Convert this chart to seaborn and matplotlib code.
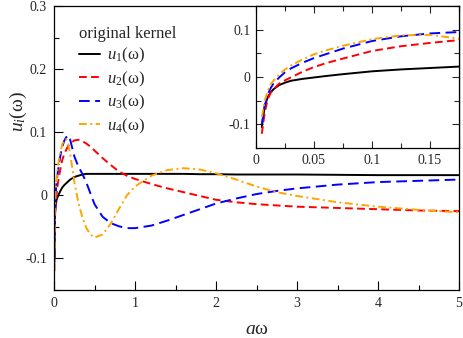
import matplotlib
matplotlib.use("Agg")
import matplotlib.pyplot as plt
import matplotlib.ticker as mticker
import seaborn as sns
import pandas as pd

# ---- data ----
a_omega = [0.005, 0.0075, 0.01, 0.0125, 0.015, 0.02, 0.025, 0.03, 0.04, 0.05,
           0.06, 0.075, 0.1, 0.125, 0.15, 0.175, 0.2, 0.25, 0.3, 0.35,
           0.4, 0.45, 0.5, 0.6, 0.7, 0.8, 0.9, 1.0, 1.2, 1.4,
           1.6, 1.8, 2.0, 2.25, 2.5, 2.75, 3.0, 3.5, 4.0, 4.5, 5.0]

u1 = [-0.106, -0.062, -0.043, -0.033, -0.026, -0.017, -0.012, -0.008, -0.004, -0.001,
      0.002, 0.006, 0.012, 0.016, 0.019, 0.022, 0.025, 0.029, 0.031, 0.033,
      0.034, 0.034, 0.034, 0.034, 0.034, 0.034, 0.034, 0.034, 0.034, 0.034,
      0.034, 0.0335, 0.0335, 0.033, 0.033, 0.033, 0.033, 0.0325, 0.032, 0.032, 0.032]

u2 = [-0.120, -0.075, -0.048, -0.034, -0.026, -0.014, -0.007, -0.001, 0.011, 0.021,
      0.029, 0.039, 0.055, 0.065, 0.072, 0.078, 0.082, 0.087, 0.088, 0.086,
      0.082, 0.077, 0.071, 0.059, 0.048, 0.038, 0.031, 0.026, 0.018, 0.011,
      0.005, -0.001, -0.007, -0.011, -0.014, -0.016, -0.018, -0.020, -0.022, -0.024, -0.025]

u3 = [-0.100, -0.062, -0.038, -0.024, -0.014, -0.001, 0.010, 0.018, 0.030, 0.040,
      0.048, 0.060, 0.076, 0.086, 0.092, 0.095, 0.088, 0.062, 0.046, 0.034,
      0.020, 0.003, -0.014, -0.034, -0.044, -0.049, -0.052, -0.052, -0.048, -0.040,
      -0.031, -0.022, -0.013, -0.005, 0.002, 0.007, 0.011, 0.017, 0.021, 0.023, 0.025]

u4 = [-0.085, -0.050, -0.030, -0.016, -0.008, 0.005, 0.016, 0.024, 0.037, 0.048,
      0.056, 0.066, 0.080, 0.088, 0.089, 0.081, 0.066, 0.022, -0.011, -0.035,
      -0.052, -0.062, -0.067, -0.062, -0.045, -0.022, 0.000, 0.014, 0.031, 0.040,
      0.043, 0.041, 0.035, 0.025, 0.014, 0.005, -0.001, -0.011, -0.018, -0.023, -0.027]

series_names = ["$u_\\mathit{1}$(ω)", "$u_\\mathit{2}$(ω)", "$u_\\mathit{3}$(ω)", "$u_\\mathit{4}$(ω)"]
series_values = [u1, u2, u3, u4]
colors = ["#000000", "#ff0000", "#0000ff", "#ffa500"]
dash_styles = [None, (4.0, 2.2), (5.5, 2.8), (4.0, 1.8, 1.0, 1.8)]

main_xticks = [0, 1, 2, 3, 4, 5]
main_yticks = [-0.1, 0, 0.1, 0.2, 0.3]
inset_xticks = [0, 0.05, 0.1, 0.15]
inset_yticks = [-0.1, 0, 0.1]

# ---- style ----
sns.set_theme(style="ticks")
plt.rcParams["font.family"] = ["Liberation Serif", "DejaVu Serif"]
plt.rcParams["mathtext.fontset"] = "custom"
plt.rcParams["mathtext.rm"] = "Liberation Serif"
plt.rcParams["mathtext.it"] = "Liberation Serif:italic"
plt.rcParams["axes.unicode_minus"] = False

fig = plt.figure(figsize=(4.64, 3.38), dpi=100)
W, H = 464, 338
ax = fig.add_axes([54 / W, 1 - 290 / H, (459 - 54) / W, (290 - 6) / H])
axin = fig.add_axes([256 / W, 1 - 148 / H, (459 - 256) / W, (148 - 6) / H])

df = pd.DataFrame({"x": a_omega})
for name, vals in zip(series_names, series_values):
    df[name] = vals

for target in (ax, axin):
    for name, c, d in zip(series_names, colors, dash_styles):
        sns.lineplot(data=df, x="x", y=name, ax=target, color=c, linewidth=1.4,
                     sort=False, estimator=None, legend=False)
        line = target.lines[-1]
        if d is not None:
            line.set_dashes(d)

def fmt(v, pos):
    return "%g" % v

# main axes
ax.set_xlim(0, 5)
ax.set_ylim(-0.15, 0.3)
ax.set_xticks(main_xticks)
ax.set_yticks(main_yticks)
ax.xaxis.set_minor_locator(mticker.MultipleLocator(0.5))
ax.yaxis.set_minor_locator(mticker.MultipleLocator(0.05))
ax.xaxis.set_major_formatter(mticker.FuncFormatter(fmt))
ax.yaxis.set_major_formatter(mticker.FuncFormatter(fmt))
ax.tick_params(which="both", direction="in", labelsize=10, width=0.8, color="black",
               pad=5)
ax.tick_params(which="major", length=6.5)
ax.tick_params(which="minor", length=3.5)
ax.set_xlabel("$a$ω", fontsize=14, labelpad=8)
ax.set_ylabel("$u_i$(ω)", fontsize=14)
ax.yaxis.set_label_coords(-0.062, 0.63)
for s in ax.spines.values():
    s.set_linewidth(0.9)
    s.set_color("black")

# inset
axin.set_xlim(0, 0.175)
axin.set_ylim(-0.15, 0.15)
axin.set_xticks(inset_xticks)
axin.set_yticks(inset_yticks)
axin.xaxis.set_minor_locator(mticker.MultipleLocator(0.025))
axin.yaxis.set_minor_locator(mticker.MultipleLocator(0.05))
axin.xaxis.set_major_formatter(mticker.FuncFormatter(fmt))
axin.yaxis.set_major_formatter(mticker.FuncFormatter(fmt))
axin.tick_params(which="both", direction="in", labelsize=10, width=0.8,
                 top=True, right=True, pad=4)
axin.tick_params(which="major", length=5)
axin.tick_params(which="minor", length=3.5)
axin.set_xlabel("")
axin.set_ylabel("")
axin.set_facecolor("white")
for s in axin.spines.values():
    s.set_linewidth(0.9)
    s.set_color("black")

handles = ax.lines[:4]
leg = ax.legend(handles, series_names, title="original kernel", loc="upper left",
                bbox_to_anchor=(79 / W, 1 - 26 / H), bbox_transform=fig.transFigure,
                frameon=False, fontsize=12, title_fontsize=12, borderpad=0,
                borderaxespad=0, handlelength=1.25, handletextpad=0.45,
                labelspacing=0.25, alignment="left")

fig.savefig("out.png", dpi=100)
